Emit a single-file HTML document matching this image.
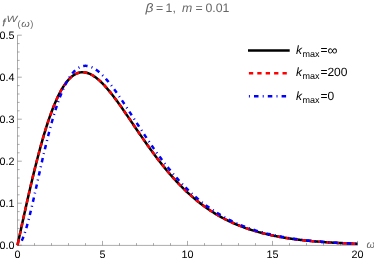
<!DOCTYPE html>
<html><head><meta charset="utf-8"><title>plot</title>
<style>
html,body{margin:0;padding:0;background:#fff;}
body{width:374px;height:260px;overflow:hidden;}
svg{display:block;will-change:transform;text-rendering:geometricPrecision;font-family:"Liberation Sans",sans-serif;}
.tl text{font-size:10.8px;fill:#000;}
.g{fill:#666;}
.i{font-style:italic;}
</style></head><body>
<svg width="374" height="260" viewBox="0 0 374 260">
<rect width="374" height="260" fill="#fff"/>
<g stroke="#666" stroke-width="0.55" fill="none">
<path d="M17.5,245.4 H357.5"/>
<path d="M17.5,245.4 V35.2"/>
<path d="M17.50,245.4 v-4.5 M34.50,245.4 v-2.3 M51.50,245.4 v-2.3 M68.50,245.4 v-2.3 M85.50,245.4 v-2.3 M102.50,245.4 v-4.5 M119.50,245.4 v-2.3 M136.50,245.4 v-2.3 M153.50,245.4 v-2.3 M170.50,245.4 v-2.3 M187.50,245.4 v-4.5 M204.50,245.4 v-2.3 M221.50,245.4 v-2.3 M238.50,245.4 v-2.3 M255.50,245.4 v-2.3 M272.50,245.4 v-4.5 M289.50,245.4 v-2.3 M306.50,245.4 v-2.3 M323.50,245.4 v-2.3 M340.50,245.4 v-2.3 M357.50,245.4 v-4.5 M17.5,245.20 h4.3 M17.5,236.80 h2.1 M17.5,228.40 h2.1 M17.5,220.00 h2.1 M17.5,211.60 h2.1 M17.5,203.20 h4.3 M17.5,194.80 h2.1 M17.5,186.40 h2.1 M17.5,178.00 h2.1 M17.5,169.60 h2.1 M17.5,161.20 h4.3 M17.5,152.80 h2.1 M17.5,144.40 h2.1 M17.5,136.00 h2.1 M17.5,127.60 h2.1 M17.5,119.20 h4.3 M17.5,110.80 h2.1 M17.5,102.40 h2.1 M17.5,94.00 h2.1 M17.5,85.60 h2.1 M17.5,77.20 h4.3 M17.5,68.80 h2.1 M17.5,60.40 h2.1 M17.5,52.00 h2.1 M17.5,43.60 h2.1 M17.5,35.20 h4.3"/>
</g>
<g fill="none" stroke-linejoin="round">
<path d="M17.50,245.20 L18.35,241.28 L19.20,237.35 L20.06,233.44 L20.91,229.53 L21.76,225.63 L22.61,221.74 L23.46,217.87 L24.32,214.02 L25.17,210.18 L26.02,206.37 L26.87,202.58 L27.73,198.81 L28.58,195.08 L29.43,191.37 L30.28,187.70 L31.13,184.06 L31.99,180.46 L32.84,176.90 L33.69,173.38 L34.54,169.91 L35.39,166.48 L36.25,163.09 L37.10,159.75 L37.95,156.47 L38.80,153.23 L39.66,150.05 L40.51,146.92 L41.36,143.85 L42.21,140.83 L43.06,137.88 L43.92,134.98 L44.77,132.14 L45.62,129.37 L46.47,126.65 L47.32,124.00 L48.18,121.42 L49.03,118.90 L49.88,116.45 L50.73,114.06 L51.59,111.74 L52.44,109.48 L53.29,107.30 L54.14,105.18 L54.99,103.13 L55.85,101.15 L56.70,99.24 L57.55,97.39 L58.40,95.62 L59.25,93.91 L60.11,92.28 L60.96,90.71 L61.81,89.21 L62.66,87.77 L63.52,86.41 L64.37,85.11 L65.22,83.88 L66.07,82.71 L66.92,81.61 L67.78,80.58 L68.63,79.61 L69.48,78.70 L70.33,77.86 L71.18,77.08 L72.04,76.36 L72.89,75.70 L73.74,75.10 L74.59,74.56 L75.44,74.08 L76.30,73.66 L77.15,73.30 L78.00,72.99 L78.85,72.73 L79.71,72.53 L80.56,72.38 L81.41,72.29 L82.26,72.24 L83.11,72.25 L83.97,72.30 L84.82,72.40 L85.67,72.55 L86.52,72.74 L87.37,72.98 L88.23,73.26 L89.08,73.58 L89.93,73.95 L90.78,74.36 L91.64,74.80 L92.49,75.28 L93.34,75.80 L94.19,76.36 L95.04,76.95 L95.90,77.57 L96.75,78.23 L97.60,78.92 L98.45,79.64 L99.30,80.39 L100.16,81.17 L101.01,81.98 L101.86,82.81 L102.71,83.67 L103.57,84.55 L104.42,85.46 L105.27,86.39 L106.12,87.35 L106.97,88.32 L107.83,89.32 L108.68,90.33 L109.53,91.36 L110.38,92.41 L111.23,93.48 L112.09,94.56 L112.94,95.66 L113.79,96.77 L114.64,97.90 L115.49,99.03 L116.35,100.19 L117.20,101.35 L118.05,102.52 L118.90,103.70 L119.76,104.89 L120.61,106.09 L121.46,107.30 L122.31,108.51 L123.16,109.73 L124.02,110.96 L124.87,112.19 L125.72,113.43 L126.57,114.67 L127.42,115.91 L128.28,117.16 L129.13,118.41 L129.98,119.66 L130.83,120.92 L131.69,122.17 L132.54,123.42 L133.39,124.68 L134.24,125.93 L135.09,127.19 L135.95,128.44 L136.80,129.69 L137.65,130.94 L138.50,132.19 L139.35,133.43 L140.21,134.67 L141.06,135.91 L141.91,137.14 L142.76,138.37 L143.62,139.60 L144.47,140.82 L145.32,142.03 L146.17,143.24 L147.02,144.45 L147.88,145.65 L148.73,146.84 L149.58,148.03 L150.43,149.21 L151.28,150.38 L152.14,151.55 L152.99,152.71 L153.84,153.86 L154.69,155.01 L155.55,156.14 L156.40,157.27 L157.25,158.40 L158.10,159.51 L158.95,160.62 L159.81,161.71 L160.66,162.80 L161.51,163.88 L162.36,164.96 L163.21,166.02 L164.07,167.07 L164.92,168.12 L165.77,169.16 L166.62,170.18 L167.47,171.20 L168.33,172.21 L169.18,173.21 L170.03,174.20 L170.88,175.19 L171.74,176.16 L172.59,177.12 L173.44,178.08 L174.29,179.02 L175.14,179.95 L176.00,180.88 L176.85,181.80 L177.70,182.70 L178.55,183.60 L179.40,184.49 L180.26,185.37 L181.11,186.23 L181.96,187.09 L182.81,187.94 L183.67,188.78 L184.52,189.61 L185.37,190.43 L186.22,191.25 L187.07,192.05 L187.93,192.84 L188.78,193.63 L189.63,194.40 L190.48,195.17 L191.33,195.92 L192.19,196.67 L193.04,197.41 L193.89,198.14 L194.74,198.86 L195.60,199.57 L196.45,200.27 L197.30,200.97 L198.15,201.65 L199.00,202.33 L199.86,203.00 L200.71,203.66 L201.56,204.31 L202.41,204.95 L203.26,205.58 L204.12,206.21 L204.97,206.82 L205.82,207.43 L206.67,208.03 L207.53,208.63 L208.38,209.21 L209.23,209.79 L210.08,210.36 L210.93,210.92 L211.79,211.47 L212.64,212.02 L213.49,212.55 L214.34,213.09 L215.19,213.61 L216.05,214.12 L216.90,214.63 L217.75,215.13 L218.60,215.63 L219.45,216.12 L220.31,216.60 L221.16,217.07 L222.01,217.53 L222.86,217.99 L223.72,218.45 L224.57,218.89 L225.42,219.33 L226.27,219.77 L227.12,220.19 L227.98,220.61 L228.83,221.03 L229.68,221.43 L230.53,221.84 L231.38,222.23 L232.24,222.62 L233.09,223.01 L233.94,223.38 L234.79,223.76 L235.65,224.12 L236.50,224.48 L237.35,224.84 L238.20,225.19 L239.05,225.53 L239.91,225.87 L240.76,226.20 L241.61,226.53 L242.46,226.86 L243.31,227.17 L244.17,227.49 L245.02,227.80 L245.87,228.10 L246.72,228.40 L247.58,228.69 L248.43,228.98 L249.28,229.27 L250.13,229.55 L250.98,229.82 L251.84,230.09 L252.69,230.36 L253.54,230.62 L254.39,230.88 L255.24,231.13 L256.10,231.38 L256.95,231.63 L257.80,231.87 L258.65,232.11 L259.51,232.34 L260.36,232.57 L261.21,232.80 L262.06,233.02 L262.91,233.24 L263.77,233.45 L264.62,233.66 L265.47,233.87 L266.32,234.08 L267.17,234.28 L268.03,234.47 L268.88,234.67 L269.73,234.86 L270.58,235.05 L271.43,235.23 L272.29,235.41 L273.14,235.59 L273.99,235.77 L274.84,235.94 L275.70,236.11 L276.55,236.27 L277.40,236.44 L278.25,236.60 L279.10,236.76 L279.96,236.91 L280.81,237.06 L281.66,237.21 L282.51,237.36 L283.36,237.51 L284.22,237.65 L285.07,237.79 L285.92,237.93 L286.77,238.06 L287.63,238.19 L288.48,238.32 L289.33,238.45 L290.18,238.58 L291.03,238.70 L291.89,238.82 L292.74,238.94 L293.59,239.06 L294.44,239.17 L295.29,239.29 L296.15,239.40 L297.00,239.51 L297.85,239.61 L298.70,239.72 L299.56,239.82 L300.41,239.92 L301.26,240.02 L302.11,240.12 L302.96,240.22 L303.82,240.31 L304.67,240.40 L305.52,240.49 L306.37,240.58 L307.22,240.67 L308.08,240.76 L308.93,240.84 L309.78,240.92 L310.63,241.01 L311.48,241.09 L312.34,241.16 L313.19,241.24 L314.04,241.32 L314.89,241.39 L315.75,241.46 L316.60,241.54 L317.45,241.61 L318.30,241.68 L319.15,241.74 L320.01,241.81 L320.86,241.87 L321.71,241.94 L322.56,242.00 L323.41,242.06 L324.27,242.12 L325.12,242.18 L325.97,242.24 L326.82,242.30 L327.68,242.36 L328.53,242.41 L329.38,242.46 L330.23,242.52 L331.08,242.57 L331.94,242.62 L332.79,242.67 L333.64,242.72 L334.49,242.77 L335.34,242.82 L336.20,242.86 L337.05,242.91 L337.90,242.95 L338.75,243.00 L339.61,243.04 L340.46,243.08 L341.31,243.12 L342.16,243.16 L343.01,243.20 L343.87,243.24 L344.72,243.28 L345.57,243.32 L346.42,243.36 L347.27,243.39 L348.13,243.43 L348.98,243.46 L349.83,243.50 L350.68,243.53 L351.54,243.56 L352.39,243.60 L353.24,243.63 L354.09,243.66 L354.94,243.69 L355.80,243.72 L356.65,243.75 L357.50,243.78" stroke="#000" stroke-width="2.5"/>
<path d="M17.50,245.20 L18.35,241.28 L19.20,237.35 L20.06,233.44 L20.91,229.53 L21.76,225.63 L22.61,221.74 L23.46,217.87 L24.32,214.02 L25.17,210.18 L26.02,206.37 L26.87,202.58 L27.73,198.81 L28.58,195.08 L29.43,191.37 L30.28,187.70 L31.13,184.06 L31.99,180.46 L32.84,176.90 L33.69,173.38 L34.54,169.91 L35.39,166.48 L36.25,163.09 L37.10,159.75 L37.95,156.47 L38.80,153.23 L39.66,150.05 L40.51,146.92 L41.36,143.85 L42.21,140.83 L43.06,137.88 L43.92,134.98 L44.77,132.14 L45.62,129.37 L46.47,126.65 L47.32,124.00 L48.18,121.42 L49.03,118.90 L49.88,116.45 L50.73,114.06 L51.59,111.74 L52.44,109.48 L53.29,107.30 L54.14,105.18 L54.99,103.13 L55.85,101.15 L56.70,99.24 L57.55,97.39 L58.40,95.62 L59.25,93.91 L60.11,92.28 L60.96,90.71 L61.81,89.21 L62.66,87.77 L63.52,86.41 L64.37,85.11 L65.22,83.88 L66.07,82.71 L66.92,81.61 L67.78,80.58 L68.63,79.61 L69.48,78.70 L70.33,77.86 L71.18,77.08 L72.04,76.36 L72.89,75.70 L73.74,75.10 L74.59,74.56 L75.44,74.08 L76.30,73.66 L77.15,73.30 L78.00,72.99 L78.85,72.73 L79.71,72.53 L80.56,72.38 L81.41,72.29 L82.26,72.24 L83.11,72.25 L83.97,72.30 L84.82,72.40 L85.67,72.55 L86.52,72.74 L87.37,72.98 L88.23,73.26 L89.08,73.58 L89.93,73.95 L90.78,74.36 L91.64,74.80 L92.49,75.28 L93.34,75.80 L94.19,76.36 L95.04,76.95 L95.90,77.57 L96.75,78.23 L97.60,78.92 L98.45,79.64 L99.30,80.39 L100.16,81.17 L101.01,81.98 L101.86,82.81 L102.71,83.67 L103.57,84.55 L104.42,85.46 L105.27,86.39 L106.12,87.35 L106.97,88.32 L107.83,89.32 L108.68,90.33 L109.53,91.36 L110.38,92.41 L111.23,93.48 L112.09,94.56 L112.94,95.66 L113.79,96.77 L114.64,97.90 L115.49,99.03 L116.35,100.19 L117.20,101.35 L118.05,102.52 L118.90,103.70 L119.76,104.89 L120.61,106.09 L121.46,107.30 L122.31,108.51 L123.16,109.73 L124.02,110.96 L124.87,112.19 L125.72,113.43 L126.57,114.67 L127.42,115.91 L128.28,117.16 L129.13,118.41 L129.98,119.66 L130.83,120.92 L131.69,122.17 L132.54,123.42 L133.39,124.68 L134.24,125.93 L135.09,127.19 L135.95,128.44 L136.80,129.69 L137.65,130.94 L138.50,132.19 L139.35,133.43 L140.21,134.67 L141.06,135.91 L141.91,137.14 L142.76,138.37 L143.62,139.60 L144.47,140.82 L145.32,142.03 L146.17,143.24 L147.02,144.45 L147.88,145.65 L148.73,146.84 L149.58,148.03 L150.43,149.21 L151.28,150.38 L152.14,151.55 L152.99,152.71 L153.84,153.86 L154.69,155.01 L155.55,156.14 L156.40,157.27 L157.25,158.40 L158.10,159.51 L158.95,160.62 L159.81,161.71 L160.66,162.80 L161.51,163.88 L162.36,164.96 L163.21,166.02 L164.07,167.07 L164.92,168.12 L165.77,169.16 L166.62,170.18 L167.47,171.20 L168.33,172.21 L169.18,173.21 L170.03,174.20 L170.88,175.19 L171.74,176.16 L172.59,177.12 L173.44,178.08 L174.29,179.02 L175.14,179.95 L176.00,180.88 L176.85,181.80 L177.70,182.70 L178.55,183.60 L179.40,184.49 L180.26,185.37 L181.11,186.23 L181.96,187.09 L182.81,187.94 L183.67,188.78 L184.52,189.61 L185.37,190.43 L186.22,191.25 L187.07,192.05 L187.93,192.84 L188.78,193.63 L189.63,194.40 L190.48,195.17 L191.33,195.92 L192.19,196.67 L193.04,197.41 L193.89,198.14 L194.74,198.86 L195.60,199.57 L196.45,200.27 L197.30,200.97 L198.15,201.65 L199.00,202.33 L199.86,203.00 L200.71,203.66 L201.56,204.31 L202.41,204.95 L203.26,205.58 L204.12,206.21 L204.97,206.82 L205.82,207.43 L206.67,208.03 L207.53,208.63 L208.38,209.21 L209.23,209.79 L210.08,210.36 L210.93,210.92 L211.79,211.47 L212.64,212.02 L213.49,212.55 L214.34,213.09 L215.19,213.61 L216.05,214.12 L216.90,214.63 L217.75,215.13 L218.60,215.63 L219.45,216.12 L220.31,216.60 L221.16,217.07 L222.01,217.53 L222.86,217.99 L223.72,218.45 L224.57,218.89 L225.42,219.33 L226.27,219.77 L227.12,220.19 L227.98,220.61 L228.83,221.03 L229.68,221.43 L230.53,221.84 L231.38,222.23 L232.24,222.62 L233.09,223.01 L233.94,223.38 L234.79,223.76 L235.65,224.12 L236.50,224.48 L237.35,224.84 L238.20,225.19 L239.05,225.53 L239.91,225.87 L240.76,226.20 L241.61,226.53 L242.46,226.86 L243.31,227.17 L244.17,227.49 L245.02,227.80 L245.87,228.10 L246.72,228.40 L247.58,228.69 L248.43,228.98 L249.28,229.27 L250.13,229.55 L250.98,229.82 L251.84,230.09 L252.69,230.36 L253.54,230.62 L254.39,230.88 L255.24,231.13 L256.10,231.38 L256.95,231.63 L257.80,231.87 L258.65,232.11 L259.51,232.34 L260.36,232.57 L261.21,232.80 L262.06,233.02 L262.91,233.24 L263.77,233.45 L264.62,233.66 L265.47,233.87 L266.32,234.08 L267.17,234.28 L268.03,234.47 L268.88,234.67 L269.73,234.86 L270.58,235.05 L271.43,235.23 L272.29,235.41 L273.14,235.59 L273.99,235.77 L274.84,235.94 L275.70,236.11 L276.55,236.27 L277.40,236.44 L278.25,236.60 L279.10,236.76 L279.96,236.91 L280.81,237.06 L281.66,237.21 L282.51,237.36 L283.36,237.51 L284.22,237.65 L285.07,237.79 L285.92,237.93 L286.77,238.06 L287.63,238.19 L288.48,238.32 L289.33,238.45 L290.18,238.58 L291.03,238.70 L291.89,238.82 L292.74,238.94 L293.59,239.06 L294.44,239.17 L295.29,239.29 L296.15,239.40 L297.00,239.51 L297.85,239.61 L298.70,239.72 L299.56,239.82 L300.41,239.92 L301.26,240.02 L302.11,240.12 L302.96,240.22 L303.82,240.31 L304.67,240.40 L305.52,240.49 L306.37,240.58 L307.22,240.67 L308.08,240.76 L308.93,240.84 L309.78,240.92 L310.63,241.01 L311.48,241.09 L312.34,241.16 L313.19,241.24 L314.04,241.32 L314.89,241.39 L315.75,241.46 L316.60,241.54 L317.45,241.61 L318.30,241.68 L319.15,241.74 L320.01,241.81 L320.86,241.87 L321.71,241.94 L322.56,242.00 L323.41,242.06 L324.27,242.12 L325.12,242.18 L325.97,242.24 L326.82,242.30 L327.68,242.36 L328.53,242.41 L329.38,242.46 L330.23,242.52 L331.08,242.57 L331.94,242.62 L332.79,242.67 L333.64,242.72 L334.49,242.77 L335.34,242.82 L336.20,242.86 L337.05,242.91 L337.90,242.95 L338.75,243.00 L339.61,243.04 L340.46,243.08 L341.31,243.12 L342.16,243.16 L343.01,243.20 L343.87,243.24 L344.72,243.28 L345.57,243.32 L346.42,243.36 L347.27,243.39 L348.13,243.43 L348.98,243.46 L349.83,243.50 L350.68,243.53 L351.54,243.56 L352.39,243.60 L353.24,243.63 L354.09,243.66 L354.94,243.69 L355.80,243.72 L356.65,243.75 L357.50,243.78" stroke="#f00" stroke-width="2.5" stroke-dasharray="4.2 4.02" stroke-dashoffset="-2.2"/>
<path d="M17.50,245.20 L17.76,244.03 L18.01,242.85" stroke="#f00" stroke-width="2.5"/>
<path d="M19.54,244.07 L20.06,243.46 L20.91,242.19 L21.76,240.61 L22.61,238.75 L23.46,236.64 L24.32,234.30 L25.17,231.75 L26.02,229.00 L26.87,226.09 L27.73,223.02 L28.58,219.81 L29.43,216.48 L30.28,213.05 L31.13,209.53 L31.99,205.92 L32.84,202.26 L33.69,198.54 L34.54,194.78 L35.39,190.98 L36.25,187.17 L37.10,183.34 L37.95,179.52 L38.80,175.69 L39.66,171.88 L40.51,168.09 L41.36,164.32 L42.21,160.59 L43.06,156.90 L43.92,153.25 L44.77,149.64 L45.62,146.09 L46.47,142.60 L47.32,139.17 L48.18,135.80 L49.03,132.49 L49.88,129.26 L50.73,126.10 L51.59,123.02 L52.44,120.01 L53.29,117.08 L54.14,114.23 L54.99,111.46 L55.85,108.78 L56.70,106.17 L57.55,103.66 L58.40,101.22 L59.25,98.87 L60.11,96.61 L60.96,94.44 L61.81,92.35 L62.66,90.34 L63.52,88.42 L64.37,86.58 L65.22,84.83 L66.07,83.17 L66.92,81.59 L67.78,80.09 L68.63,78.67 L69.48,77.33 L70.33,76.07 L71.18,74.90 L72.04,73.80 L72.89,72.78 L73.74,71.83 L74.59,70.96 L75.44,70.16 L76.30,69.43 L77.15,68.78 L78.00,68.20 L78.85,67.68 L79.71,67.23 L80.56,66.85 L81.41,66.53 L82.26,66.28 L83.11,66.08 L83.97,65.95 L84.82,65.87 L85.67,65.86 L86.52,65.90 L87.37,65.99 L88.23,66.14 L89.08,66.34 L89.93,66.58 L90.78,66.88 L91.64,67.23 L92.49,67.62 L93.34,68.06 L94.19,68.54 L95.04,69.06 L95.90,69.62 L96.75,70.23 L97.60,70.87 L98.45,71.55 L99.30,72.26 L100.16,73.01 L101.01,73.79 L101.86,74.60 L102.71,75.45 L103.57,76.32 L104.42,77.23 L105.27,78.15 L106.12,79.11 L106.97,80.09 L107.83,81.10 L108.68,82.12 L109.53,83.17 L110.38,84.24 L111.23,85.34 L112.09,86.44 L112.94,87.57 L113.79,88.72 L114.64,89.88 L115.49,91.05 L116.35,92.24 L117.20,93.44 L118.05,94.66 L118.90,95.89 L119.76,97.12 L120.61,98.37 L121.46,99.63 L122.31,100.90 L123.16,102.17 L124.02,103.45 L124.87,104.74 L125.72,106.03 L126.57,107.33 L127.42,108.63 L128.28,109.94 L129.13,111.25 L129.98,112.57 L130.83,113.88 L131.69,115.20 L132.54,116.52 L133.39,117.84 L134.24,119.16 L135.09,120.47 L135.95,121.79 L136.80,123.11 L137.65,124.42 L138.50,125.74 L139.35,127.05 L140.21,128.35 L141.06,129.66 L141.91,130.96 L142.76,132.25 L143.62,133.55 L144.47,134.83 L145.32,136.11 L146.17,137.39 L147.02,138.66 L147.88,139.93 L148.73,141.19 L149.58,142.44 L150.43,143.69 L151.28,144.93 L152.14,146.16 L152.99,147.38 L153.84,148.60 L154.69,149.81 L155.55,151.01 L156.40,152.20 L157.25,153.39 L158.10,154.57 L158.95,155.74 L159.81,156.90 L160.66,158.05 L161.51,159.19 L162.36,160.32 L163.21,161.45 L164.07,162.56 L164.92,163.67 L165.77,164.76 L166.62,165.85 L167.47,166.93 L168.33,167.99 L169.18,169.05 L170.03,170.10 L170.88,171.14 L171.74,172.17 L172.59,173.19 L173.44,174.19 L174.29,175.19 L175.14,176.18 L176.00,177.16 L176.85,178.13 L177.70,179.09 L178.55,180.04 L179.40,180.97 L180.26,181.90 L181.11,182.82 L181.96,183.73 L182.81,184.63 L183.67,185.52 L184.52,186.40 L185.37,187.26 L186.22,188.12 L187.07,188.97 L187.93,189.81 L188.78,190.64 L189.63,191.46 L190.48,192.27 L191.33,193.07 L192.19,193.86 L193.04,194.64 L193.89,195.41 L194.74,196.18 L195.60,196.93 L196.45,197.67 L197.30,198.41 L198.15,199.13 L199.00,199.85 L199.86,200.55 L200.71,201.25 L201.56,201.94 L202.41,202.62 L203.26,203.29 L204.12,203.95 L204.97,204.60 L205.82,205.25 L206.67,205.88 L207.53,206.51 L208.38,207.13 L209.23,207.74 L210.08,208.34 L210.93,208.93 L211.79,209.52 L212.64,210.09 L213.49,210.66 L214.34,211.23 L215.19,211.78 L216.05,212.32 L216.90,212.86 L217.75,213.39 L218.60,213.92 L219.45,214.43 L220.31,214.94 L221.16,215.44 L222.01,215.93 L222.86,216.42 L223.72,216.90 L224.57,217.37 L225.42,217.83 L226.27,218.29 L227.12,218.74 L227.98,219.19 L228.83,219.63 L229.68,220.06 L230.53,220.48 L231.38,220.90 L232.24,221.31 L233.09,221.72 L233.94,222.12 L234.79,222.51 L235.65,222.90 L236.50,223.28 L237.35,223.66 L238.20,224.03 L239.05,224.39 L239.91,224.75 L240.76,225.10 L241.61,225.45 L242.46,225.79 L243.31,226.13 L244.17,226.46 L245.02,226.79 L245.87,227.11 L246.72,227.42 L247.58,227.74 L248.43,228.04 L249.28,228.34 L250.13,228.64 L250.98,228.93 L251.84,229.22 L252.69,229.50 L253.54,229.78 L254.39,230.05 L255.24,230.32 L256.10,230.58 L256.95,230.84 L257.80,231.10 L258.65,231.35 L259.51,231.60 L260.36,231.84 L261.21,232.08 L262.06,232.31 L262.91,232.54 L263.77,232.77 L264.62,232.99 L265.47,233.21 L266.32,233.43 L267.17,233.64 L268.03,233.85 L268.88,234.06 L269.73,234.26 L270.58,234.46 L271.43,234.65 L272.29,234.85 L273.14,235.03 L273.99,235.22 L274.84,235.40 L275.70,235.58 L276.55,235.76 L277.40,235.93 L278.25,236.10 L279.10,236.27 L279.96,236.43 L280.81,236.59 L281.66,236.75 L282.51,236.91 L283.36,237.06 L284.22,237.21 L285.07,237.36 L285.92,237.50 L286.77,237.65 L287.63,237.79 L288.48,237.93 L289.33,238.06 L290.18,238.19 L291.03,238.32 L291.89,238.45 L292.74,238.58 L293.59,238.70 L294.44,238.82 L295.29,238.94 L296.15,239.06 L297.00,239.18 L297.85,239.29 L298.70,239.40 L299.56,239.51 L300.41,239.62 L301.26,239.72 L302.11,239.83 L302.96,239.93 L303.82,240.03 L304.67,240.13 L305.52,240.22 L306.37,240.32 L307.22,240.41 L308.08,240.50 L308.93,240.59 L309.78,240.68 L310.63,240.76 L311.48,240.85 L312.34,240.93 L313.19,241.01 L314.04,241.09 L314.89,241.17 L315.75,241.25 L316.60,241.32 L317.45,241.40 L318.30,241.47 L319.15,241.54 L320.01,241.61 L320.86,241.68 L321.71,241.75 L322.56,241.82 L323.41,241.88 L324.27,241.95 L325.12,242.01 L325.97,242.07 L326.82,242.13 L327.68,242.19 L328.53,242.25 L329.38,242.31 L330.23,242.36 L331.08,242.42 L331.94,242.47 L332.79,242.52 L333.64,242.58 L334.49,242.63 L335.34,242.68 L336.20,242.73 L337.05,242.78 L337.90,242.82 L338.75,242.87 L339.61,242.92 L340.46,242.96 L341.31,243.00 L342.16,243.05 L343.01,243.09 L343.87,243.13 L344.72,243.17 L345.57,243.21 L346.42,243.25 L347.27,243.29 L348.13,243.33 L348.98,243.36 L349.83,243.40 L350.68,243.43 L351.54,243.47 L352.39,243.50 L353.24,243.54 L354.09,243.57 L354.94,243.60 L355.80,243.63 L356.65,243.67 L357.50,243.70" stroke="#00f" stroke-width="2.5" stroke-dasharray="1 4.0 4.4 4.1" stroke-dashoffset="1.0"/>
</g>
<g class="tl"><text x="14.4" y="249.00" text-anchor="end">0.0</text><text x="14.4" y="207.00" text-anchor="end">0.1</text><text x="14.4" y="165.00" text-anchor="end">0.2</text><text x="14.4" y="123.00" text-anchor="end">0.3</text><text x="14.4" y="81.00" text-anchor="end">0.4</text><text x="14.4" y="39.00" text-anchor="end">0.5</text><text x="17.50" y="257.8" text-anchor="middle">0</text><text x="102.50" y="257.8" text-anchor="middle">5</text><text x="187.50" y="257.8" text-anchor="middle">10</text><text x="272.50" y="257.8" text-anchor="middle">15</text><text x="357.50" y="257.8" text-anchor="middle">20</text></g>
<!-- title -->
<g class="g" font-size="12.3px">
<text x="145.4" y="12" class="i" textLength="7.9" lengthAdjust="spacingAndGlyphs">β</text>
<text x="156.0" y="12">=</text>
<text x="165.6" y="12">1,</text>
<text x="182.1" y="12" class="i">m</text>
<text x="195.6" y="12">=</text>
<text x="205.5" y="12">0.01</text>
</g>
<!-- y label -->
<g class="g">
<text x="2.4" y="26" class="i" font-size="10.2px" stroke="#666" stroke-width="0.3">f</text>
<text x="6.5" y="22" class="i" font-size="9px" textLength="10.9" lengthAdjust="spacingAndGlyphs">W</text>
<text x="17.4" y="27" font-size="9.3px">(</text>
<text x="21.3" y="27" font-size="9.8px" class="i" textLength="8.5" lengthAdjust="spacingAndGlyphs">ω</text>
<text x="30.2" y="27" font-size="9.3px">)</text>
<text x="366.6" y="248" class="i" font-size="10.8px">ω</text>
</g>
<!-- legend -->
<g fill="none" stroke-width="2.4">
<path d="M248,50.5 H289.7" stroke="#000"/>
<path d="M248.9,73.2 H289.7" stroke="#f00" stroke-dasharray="4.3 4.1"/>
<path d="M248.9,96.3 H289.7" stroke="#00f" stroke-dasharray="1 4.1 4.5 4.2"/>
</g>
<g fill="#000" font-size="12px">
<text x="296" y="54" class="i">k</text><text x="302.5" y="56.7" font-size="9px">max</text><text x="320.5" y="54">=</text><text x="327.4" y="55" font-size="14px">∞</text>
<text x="296" y="76" class="i">k</text><text x="302.5" y="78.7" font-size="9px">max</text><text x="320.5" y="76">=</text><text x="327.4" y="76">200</text>
<text x="296" y="100" class="i">k</text><text x="302.5" y="102.7" font-size="9px">max</text><text x="320.5" y="100">=</text><text x="327.4" y="100">0</text>
</g>
</svg>
</body></html>
